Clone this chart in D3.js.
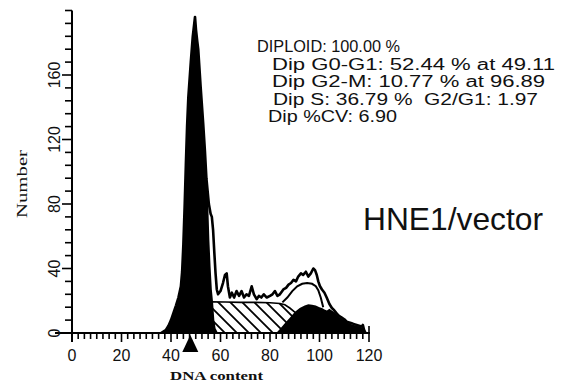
<!DOCTYPE html>
<html>
<head>
<meta charset="utf-8">
<style>
body { margin: 0; background: #fff; }
svg { display: block; }
.stat { font-family: "Liberation Sans", Arial, sans-serif; font-size: 16px; fill: #111; }
.tick-label { font-family: "Liberation Sans", Arial, sans-serif; font-size: 16px; fill: #111; }
.axis-title { font-family: "Liberation Serif", "Times New Roman", serif; fill: #111; }
</style>
</head>
<body>
<svg width="568" height="387"></svg>
<script src="https://d3js.org/d3.v7.min.js"></script>
<script>

// [DNA channel, count]
var g1Peak = [[36,0],[38,2],[39,4.5],[40,8],[41,12.5],[42,17],[43,22],[44,29],[44.5,38],[45,55],
  [45.5,78],[46,104],[46.5,128],[47,146],[48,168],[48.8,184],[49.4,192],[49.7,196],[50.1,188],
  [50.6,181],[51,176],[52,152],[53,130],[53.7,113],[54.3,96],[55,82],[55.5,58],[56,41],[56.5,27],
  [57,19],[57.5,8],[58,3],[59,0]];

var histogram = [[36,0],[38,2],[39,4.5],[40,8],[41,12.5],[42,17],[43,22],[44,29],[44.5,38],[45,55],
  [45.5,78],[46,104],[46.5,128],[47,146],[48,168],[48.8,184],[49.4,192],[49.7,196],[50.1,188],
  [50.6,181],[51,176],[52,152],[53,130],[53.7,113],[54.3,96],[54.8,88],[55.3,80],[56,74],[56.5,72],
  [57,64],[57.5,50],[58,37],[58.5,27],[59,24],[60,26],[61,31],[61.8,36],[62.5,37],[63,29],[63.8,22],
  [64.6,25],[65.5,22],[66.5,26],[67.5,23],[68.5,26],[69.5,22],[70.5,24],[71.5,23],[72.6,29],[73.5,24],
  [74.6,21],[75.5,23],[76.5,22],[77.5,24],[78.7,22],[80,23],[81,24],[82,26],[83,23],[84,24],
  [85.4,27],[86.5,28],[87.5,30],[88.5,31],[89.5,33],[90.5,32],[91.4,35],[92.5,37],[93.4,36],
  [94.5,38],[95.5,35],[96.5,37],[97.5,40],[98.2,39],[98.9,36],[99.5,32],[100.2,29],[101,27],
  [102,25],[102.9,22],[104,18],[105,15.5],[106,14],[107,12],[108,10.5],[109,9.5],[110,8.5],
  [111,7],[112,6.5],[113,6],[114,5.5],[115,5],[116,4.5],[117,4],[117.5,5],[118,2],[118.6,0]];

var sPhase = [[45,19],[50,19.5],[56,19.3],[62,19.2],[68,19],[74,19],[80,18.8],[84,18.3],[86,17.5],
  [88,15.5],[90,13],[92,10],[94,7],[96,4],[98,2],[100,0]];

var g2Peak = [[82.5,0],[84,2.5],[86,6],[88,9.5],[90,13],[92,15.5],[94,17],[95.5,17.8],[97,17.5],
  [98.5,17],[100,16],[101,15.5],[102,14.5],[103,14],[104,15],[105,14],[106,13],[107,11.5],[108,10],
  [109,9],[110,8],[111,6.5],[112,6],[113,5.5],[114,5],[115,4.5],[116,4],[117,3.5],[117.5,4.5],
  [118,2],[118.6,0]];

var fitLine = [[85,19],[87,22],[89,26],[91,29],[93,30.5],[95,31],[97,30.5],[98.5,29],[99.5,26.5],
  [100.5,22],[101.5,16]];

var g1Marker = 47.8;

var xMajor = [0, 20, 40, 60, 80, 100, 120];
var yMajor = [0, 40, 80, 120, 160];

var stats = [
  {text: "DIPLOID: 100.00 %", x: 257, y: 52, len: 143},
  {text: "Dip G0-G1: 52.44 % at 49.11", x: 272, y: 69.5, len: 283},
  {text: "Dip G2-M: 10.77 % at 96.89", x: 272, y: 87, len: 273},
  {text: "Dip S: 36.79 %  G2/G1: 1.97", x: 273, y: 104.5, len: 265},
  {text: "Dip %CV: 6.90", x: 268, y: 122, len: 129}
];

var svg = d3.select("svg");

var x = d3.scaleLinear().domain([0, 120]).range([72, 369]);
var y = d3.scaleLinear().domain([0, 200]).range([333, 10.5]);

var area = d3.area()
    .x(function(d) { return x(d[0]); })
    .y0(y(0))
    .y1(function(d) { return y(d[1]); });

var line = d3.line()
    .x(function(d) { return x(d[0]); })
    .y(function(d) { return y(d[1]); });

var defs = svg.append("defs");
defs.append("pattern")
    .attr("id", "hatch")
    .attr("patternUnits", "userSpaceOnUse")
    .attr("width", 12)
    .attr("height", 12)
  .append("path")
    .attr("d", "M0,0L12,12M-3,9L3,15M9,-3L15,3")
    .attr("stroke", "#000")
    .attr("stroke-width", 1.8);

// S phase, hatched
svg.append("path")
    .datum(sPhase)
    .attr("d", area)
    .attr("fill", "url(#hatch)");
svg.append("path")
    .datum(sPhase)
    .attr("d", line)
    .attr("fill", "none")
    .attr("stroke", "#000")
    .attr("stroke-width", 1.6);

// G2 and G1 peaks
svg.append("path")
    .datum(g2Peak)
    .attr("d", area)
    .attr("fill", "#000");

svg.append("path")
    .datum(g1Peak)
    .attr("d", area)
    .attr("fill", "#000");

svg.append("path")
    .datum(fitLine)
    .attr("d", line)
    .attr("fill", "none")
    .attr("stroke", "#000")
    .attr("stroke-width", 2);

// raw histogram outline
svg.append("path")
    .datum(histogram)
    .attr("d", line)
    .attr("fill", "none")
    .attr("stroke", "#000")
    .attr("stroke-width", 2.6)
    .attr("stroke-linejoin", "round");

// axes
var axes = svg.append("g").attr("stroke", "#000");

axes.append("line")
    .attr("x1", x(0)).attr("x2", x(0))
    .attr("y1", y(200)).attr("y2", y(0) + 9)
    .attr("stroke-width", 2);

axes.append("line")
    .attr("x1", 55).attr("x2", x(120) + 1)
    .attr("y1", y(0)).attr("y2", y(0))
    .attr("stroke-width", 2);

axes.selectAll(".ytick")
    .data(d3.range(0, 201, 8))
    .enter().append("line")
    .attr("x1", function(d) { return yMajor.indexOf(d) >= 0 ? x(0) - 10 : x(0) - 7; })
    .attr("x2", x(0))
    .attr("y1", function(d) { return y(d); })
    .attr("y2", function(d) { return y(d); })
    .attr("stroke-width", 1.6);

axes.selectAll(".xtick")
    .data(d3.range(0, 120.1, 2.5))
    .enter().append("line")
    .attr("x1", function(d) { return x(d); })
    .attr("x2", function(d) { return x(d); })
    .attr("y1", function(d) { return d === 120 ? y(0) - 7 : y(0); })
    .attr("y2", function(d) { return xMajor.indexOf(d) >= 0 ? y(0) + 9 : y(0) + 6; })
    .attr("stroke-width", 1.6);

svg.selectAll(".xlab")
    .data(xMajor)
    .enter().append("text")
    .attr("class", "tick-label")
    .attr("x", function(d) { return x(d); })
    .attr("y", 361)
    .attr("text-anchor", "middle")
    .text(function(d) { return d; });

svg.selectAll(".ylab")
    .data(yMajor)
    .enter().append("text")
    .attr("class", "tick-label")
    .attr("transform", function(d) { return "translate(60," + y(d) + ") rotate(-90)"; })
    .attr("text-anchor", "middle")
    .text(function(d) { return d; });

// G1 position marker
svg.append("path")
    .attr("d", "M" + x(g1Marker) + ",335L" + (x(g1Marker) - 8) + ",352L" + (x(g1Marker) + 8) + ",352Z")
    .attr("fill", "#000");

svg.append("text")
    .attr("class", "axis-title")
    .attr("x", 170)
    .attr("y", 380)
    .attr("font-size", 13)
    .attr("font-weight", "bold")
    .attr("textLength", 93)
    .attr("lengthAdjust", "spacingAndGlyphs")
    .text("DNA content");

svg.append("text")
    .attr("class", "axis-title")
    .attr("transform", "translate(27,218) rotate(-90)")
    .attr("font-size", 15)
    .attr("textLength", 68)
    .attr("lengthAdjust", "spacingAndGlyphs")
    .text("Number");

svg.selectAll(".stat")
    .data(stats)
    .enter().append("text")
    .attr("class", "stat")
    .attr("x", function(d) { return d.x; })
    .attr("y", function(d) { return d.y; })
    .attr("textLength", function(d) { return d.len; })
    .attr("lengthAdjust", "spacingAndGlyphs")
    .style("white-space", "pre")
    .text(function(d) { return d.text; });

svg.append("text")
    .attr("class", "stat")
    .attr("x", 363)
    .attr("y", 230)
    .style("font-size", "32px")
    .attr("textLength", 180)
    .attr("lengthAdjust", "spacingAndGlyphs")
    .text("HNE1/vector");

</script>
</body>
</html>
